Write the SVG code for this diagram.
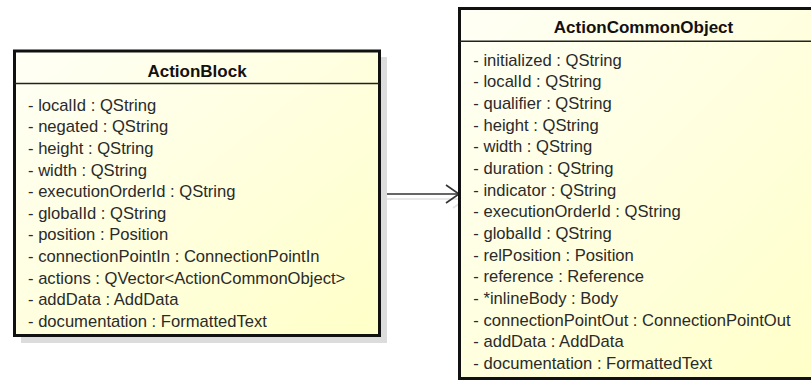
<svg xmlns="http://www.w3.org/2000/svg" width="811" height="380" viewBox="0 0 811 380">
<defs>
<linearGradient id="fill" x1="0" y1="0" x2="1" y2="1">
<stop offset="0" stop-color="#FFFFF6"/>
<stop offset="1" stop-color="#FFFFC8"/>
</linearGradient>
<marker id="open" markerWidth="16" markerHeight="22" refX="14" refY="10" orient="auto" markerUnits="userSpaceOnUse">
<path d="M1,1 L14,10 L1,19" fill="none" stroke="#333" stroke-width="1.6"/>
</marker>
<marker id="openShadow" markerWidth="16" markerHeight="22" refX="14" refY="10" orient="auto" markerUnits="userSpaceOnUse">
<path d="M1,1 L14,10 L1,19" fill="none" stroke="#e2e2e2" stroke-width="1.6"/>
</marker>
</defs>
<style>
.shadow{fill:#dcdcdc;}
.box{fill:url(#fill);stroke:#111;stroke-width:3;}
.div{stroke:#222;stroke-width:1.5;}
.title{font-family:"Liberation Sans",Arial,sans-serif;font-size:17px;font-weight:bold;fill:#111;text-anchor:middle;}
.attr{font-family:"Liberation Sans",Arial,sans-serif;font-size:16.6px;fill:#2a2a2a;}
.edge{stroke:#333;stroke-width:1.6;fill:none;}
.edgeShadow{stroke:#e2e2e2;stroke-width:1.6;fill:none;}
</style>
<rect width="811" height="380" fill="#ffffff"/>
<g id="connectors">
<line class="edgeShadow" x1="386" y1="199" x2="466" y2="199" marker-end="url(#openShadow)"/>
<line class="edge" x1="380" y1="194" x2="459" y2="194" marker-end="url(#open)"/>
</g>
<g id="ActionBlock">
<rect class="shadow" x="21" y="57" width="366" height="286"/>
<rect class="box" x="14.5" y="51" width="365" height="284.5"/>
<line class="div" x1="14.5" y1="83.5" x2="379.5" y2="83.5"/>
<text class="title" x="197" y="76.5">ActionBlock</text>
<text class="attr" x="28" y="110.7">- localId : QString</text>
<text class="attr" x="28" y="132.3">- negated : QString</text>
<text class="attr" x="28" y="153.9">- height : QString</text>
<text class="attr" x="28" y="175.5">- width : QString</text>
<text class="attr" x="28" y="197.1">- executionOrderId : QString</text>
<text class="attr" x="28" y="218.7">- globalId : QString</text>
<text class="attr" x="28" y="240.3">- position : Position</text>
<text class="attr" x="28" y="261.9">- connectionPointIn : ConnectionPointIn</text>
<text class="attr" x="28" y="283.5">- actions : QVector&lt;ActionCommonObject&gt;</text>
<text class="attr" x="28" y="305.1">- addData : AddData</text>
<text class="attr" x="28" y="326.7">- documentation : FormattedText</text>
</g>
<g id="ActionCommonObject">
<rect class="shadow" x="466" y="15" width="369" height="372"/>
<rect class="box" x="459.5" y="8.5" width="369" height="370"/>
<line class="div" x1="459.5" y1="41.2" x2="828.5" y2="41.2"/>
<text class="title" x="643.5" y="33.3">ActionCommonObject</text>
<text class="attr" x="473.3" y="65.7">- initialized : QString</text>
<text class="attr" x="473.3" y="87.4">- localId : QString</text>
<text class="attr" x="473.3" y="109.0">- qualifier : QString</text>
<text class="attr" x="473.3" y="130.7">- height : QString</text>
<text class="attr" x="473.3" y="152.3">- width : QString</text>
<text class="attr" x="473.3" y="174.0">- duration : QString</text>
<text class="attr" x="473.3" y="195.7">- indicator : QString</text>
<text class="attr" x="473.3" y="217.3">- executionOrderId : QString</text>
<text class="attr" x="473.3" y="239.0">- globalId : QString</text>
<text class="attr" x="473.3" y="260.6">- relPosition : Position</text>
<text class="attr" x="473.3" y="282.3">- reference : Reference</text>
<text class="attr" x="473.3" y="303.9">- *inlineBody : Body</text>
<text class="attr" x="473.3" y="325.6">- connectionPointOut : ConnectionPointOut</text>
<text class="attr" x="473.3" y="347.3">- addData : AddData</text>
<text class="attr" x="473.3" y="368.9">- documentation : FormattedText</text>
</g>
</svg>
